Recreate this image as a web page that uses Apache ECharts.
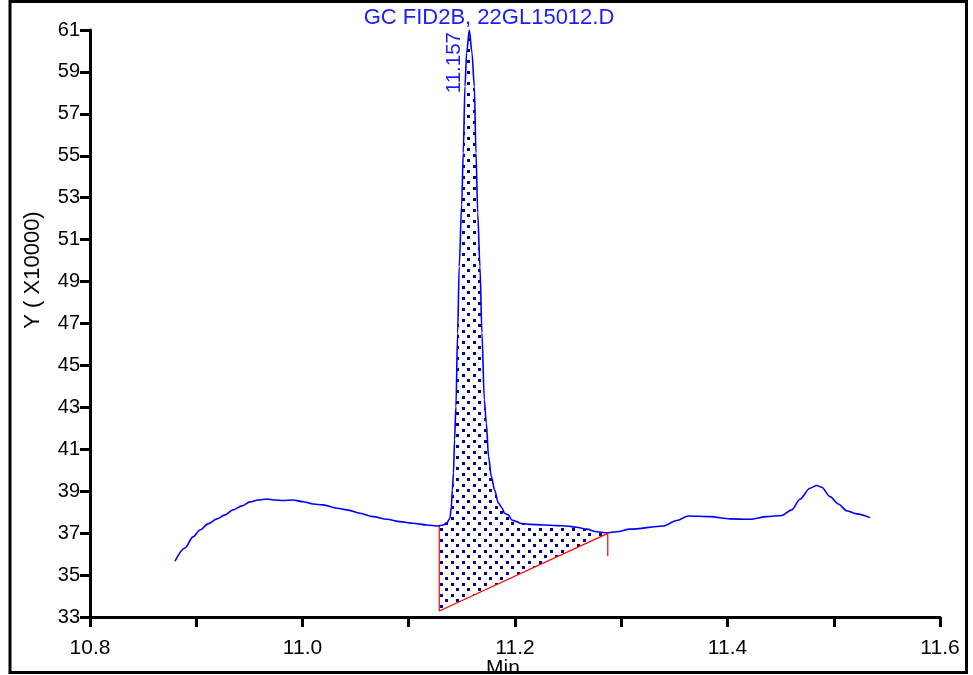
<!DOCTYPE html>
<html>
<head>
<meta charset="utf-8">
<script src="https://cdn.jsdelivr.net/npm/echarts@6/dist/echarts.min.js"></script>
<style>
  html, body { margin: 0; padding: 0; background: #fff; }
  #chart { width: 973px; height: 675px; }
</style>
</head>
<body>
<div id="chart"></div>
<script>
// FID2B trace: retention time (min) and detector response (x10000)
const retentionTimes = [
  10.880, 10.8894, 10.8969, 10.9035, 10.9111, 10.9195, 10.9271, 10.9346, 10.9431, 10.9506,
  10.9581, 10.9666, 10.9741, 10.9816, 10.9911, 11.0005, 11.0099, 11.0193, 11.0325, 11.0419,
  11.0541, 11.0664, 11.0795, 11.0918, 11.1040, 11.1172, 11.1275, 11.1322, 11.1360, 11.1388,
  11.1401, 11.1410, 11.1421, 11.1431, 11.1444, 11.1460, 11.1475, 11.1498, 11.1513, 11.1529,
  11.1545, 11.1570, 11.1595, 11.1617, 11.1633, 11.1649, 11.1670, 11.1689, 11.1711, 11.1730,
  11.1751, 11.1777, 11.1808, 11.1844, 11.1880, 11.1901, 11.1937, 11.1969, 11.2016, 11.2047,
  11.2141, 11.2266, 11.2392, 11.2487, 11.2581, 11.2675, 11.2769, 11.2863, 11.2957, 11.3082,
  11.3396, 11.3522, 11.3631, 11.3835, 11.4024, 11.4212, 11.4369, 11.4510, 11.4604, 11.4682,
  11.4776, 11.4839, 11.4886, 11.4965, 11.5043, 11.5122, 11.5216, 11.5341
];
const responses = [
  35.67, 36.29, 36.82, 37.15, 37.44, 37.68, 37.87, 38.11, 38.30, 38.49,
  38.58, 38.63, 38.58, 38.56, 38.58, 38.50, 38.39, 38.35, 38.19, 38.11,
  37.95, 37.79, 37.66, 37.55, 37.47, 37.39, 37.34, 37.39, 37.50, 37.71,
  38.26, 39.06, 39.86, 41.45, 43.04, 46.54, 49.72, 52.67, 55.13, 58.31,
  59.91, 61.00, 59.91, 58.31, 55.13, 52.28, 49.72, 46.54, 43.36, 42.25,
  40.65, 39.70, 39.06, 38.43, 38.19, 37.95, 37.87, 37.63, 37.55, 37.47,
  37.42, 37.39, 37.36, 37.34, 37.28, 37.19, 37.07, 37.02, 37.07, 37.19,
  37.34, 37.60, 37.82, 37.79, 37.68, 37.66, 37.79, 37.84, 38.11, 38.62,
  39.14, 39.27, 39.19, 38.74, 38.39, 38.07, 37.92, 37.74
];

// integrated peak
const peakTime = 11.157;
const peakLabel = '11.157';
const peakHeight = 61.0;
// baseline drop lines: start top, start bottom, end (on trace), end tick bottom
const baselineTimes = [11.1287, 11.1287, 11.2873, 11.2873];
const baselineValues = [37.34, 33.29, 36.99, 35.90];

// axis ticks and labels
const xTickValues = [10.8, 10.9, 11.0, 11.1, 11.2, 11.3, 11.4, 11.5, 11.6];
const xLabelValues = [10.8, 11.0, 11.2, 11.4, 11.6];
const yTickValues = [33, 35, 37, 39, 41, 43, 45, 47, 49, 51, 53, 55, 57, 59, 61];

const titleText = 'GC FID2B, 22GL15012.D';
const yAxisTitle = 'Y ( X10000)';
const xAxisTitle = 'Min';

const FONT = '"Liberation Sans", Arial, sans-serif';

const trace = retentionTimes.map((t, i) => [t, responses[i]]);
const baseline = baselineTimes.map((t, i) => [t, baselineValues[i]]);

// dotted hatch used for the integrated area
const tile = document.createElement('canvas');
tile.width = 11; tile.height = 11;
const tctx = tile.getContext('2d');
tctx.fillStyle = '#00008b';
tctx.fillRect(0, 0, 3, 3);
tctx.fillRect(5, 5, 3, 3);
const dotPattern = { image: tile, repeat: 'repeat' };

// polygon of the integrated area: trace between drop lines, closed by the baseline
function areaPoints() {
  const ts = baselineTimes[0], te = baselineTimes[2];
  const pts = [[ts, baselineValues[0]]];
  trace.forEach(p => { if (p[0] > ts && p[0] < te) pts.push(p); });
  pts.push([te, baselineValues[2]]);
  pts.push([ts, baselineValues[1]]);
  return pts;
}

const chart = echarts.init(document.getElementById('chart'), null, { renderer: 'canvas' });

const option = {
  animation: false,
  backgroundColor: '#fff',
  grid: { left: 90, top: 30, width: 850, height: 587, containLabel: false },
  xAxis: {
    type: 'value',
    min: 10.8, max: 11.6,
    axisLine: { lineStyle: { color: '#000', width: 3 } },
    axisTick: { customValues: xTickValues, length: 10, lineStyle: { color: '#000', width: 3 } },
    axisLabel: {
      customValues: xLabelValues,
      formatter: v => v.toFixed(1),
      color: '#000', fontSize: 21, fontFamily: FONT, margin: 21
    },
    splitLine: { show: false }
  },
  yAxis: {
    type: 'value',
    min: 33, max: 61,
    axisLine: { lineStyle: { color: '#000', width: 3 } },
    axisTick: { customValues: yTickValues, length: 10, lineStyle: { color: '#000', width: 3 } },
    axisLabel: {
      customValues: yTickValues,
      color: '#000', fontSize: 20, fontFamily: FONT, margin: 10,
      padding: [6, 0, 0, 0]
    },
    splitLine: { show: false }
  },
  series: [
    {
      type: 'custom',
      z: 1,
      data: [0],
      renderItem: (params, api) => ({
        type: 'polygon',
        shape: { points: areaPoints().map(p => api.coord(p)) },
        style: { fill: dotPattern, stroke: null }
      })
    },
    {
      type: 'line',
      z: 2,
      data: trace,
      symbol: 'none',
      smooth: 0.3,
      smoothMonotone: 'x',
      lineStyle: { color: '#0000ff', width: 1.6 }
    },
    {
      type: 'line',
      z: 3,
      data: baseline,
      symbol: 'none',
      lineStyle: { color: '#ff0000', width: 1.2 }
    }
  ]
};

chart.setOption(option);

const apex = chart.convertToPixel({ xAxisIndex: 0, yAxisIndex: 0 }, [peakTime, peakHeight]);

chart.setOption({
  graphic: [
    {
      type: 'text', x: 489, y: 18, z: 10,
      style: { text: titleText, fill: '#1c1cff', font: '22px ' + FONT, align: 'center', verticalAlign: 'middle' }
    },
    {
      type: 'text', x: apex[0] - 4, y: apex[1] + 2, rotation: Math.PI / 2, z: 10,
      style: { text: peakLabel, fill: '#1c1cff', font: '20.5px ' + FONT, align: 'right', verticalAlign: 'bottom' }
    },
    {
      type: 'text', x: 44, y: 270, rotation: Math.PI / 2, z: 10,
      style: { text: yAxisTitle, fill: '#000', font: '22px ' + FONT, align: 'center', verticalAlign: 'bottom' }
    },
    {
      type: 'text', x: 503, y: 658, z: 10,
      style: { text: xAxisTitle, fill: '#000', font: '21px ' + FONT, align: 'center', verticalAlign: 'top' }
    },
    {
      type: 'rect', z: 20,
      shape: { x: 10, y: 1.5, width: 956.5, height: 671 },
      style: { fill: null, stroke: '#000', lineWidth: 3 }
    }
  ]
});
</script>
</body>
</html>
